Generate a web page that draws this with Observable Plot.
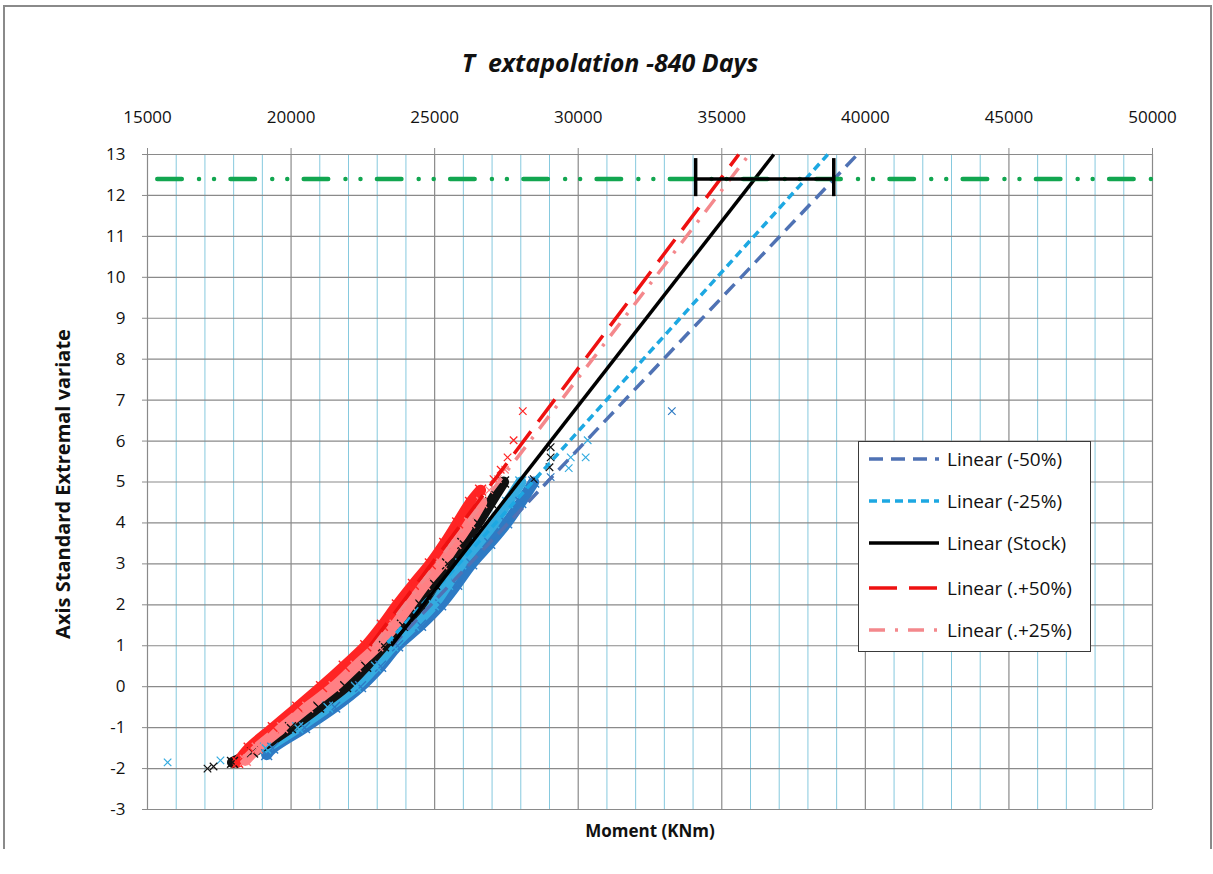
<!DOCTYPE html>
<html>
<head>
<meta charset="utf-8">
<script src="https://cdn.jsdelivr.net/npm/d3@7"></script>
<script src="https://cdn.jsdelivr.net/npm/@observablehq/plot@0.6"></script>
<style>
  html, body { margin: 0; padding: 0; background: #fff; }
  #wrap { position: relative; width: 1213px; height: 874px; overflow: hidden; font-family: "Open Sans", Lato, sans-serif; color: #111; }
  #frame { position: absolute; left: 3px; top: 5px; width: 1205px; height: 842px; border-top: 2px solid #8a8a8a; border-left: 2px solid #8a8a8a; border-right: 2px solid #8a8a8a; }
  #chart { position: absolute; left: 0; top: 0; }
  #title { position: absolute; left: 310px; width: 600px; top: 45px; line-height: 34px; text-align: center; font: italic bold 25px "Open Sans", sans-serif; white-space: pre; }
  #xlabel { position: absolute; left: 450px; width: 400px; top: 819px; line-height: 28px; text-align: center; font: bold 17px "Open Sans", sans-serif; }
  #ylabel { position: absolute; left: 62px; top: 484px; transform: translate(-50%, -50%) rotate(-90deg); white-space: nowrap; font: bold 20px "Open Sans", sans-serif; }
  #legend { position: absolute; left: 858px; top: 441px; width: 231px; height: 209px; border: 1px solid #3a3a3a; background: #fff; }
  .item { position: absolute; left: 0; height: 30px; width: 231px; }
  .item svg { position: absolute; left: 9px; top: 10px; }
  .item span { position: absolute; left: 88px; top: 0; line-height: 30px; font-size: 19px; white-space: pre; }
</style>
</head>
<body>
<div id="wrap">
  <div id="frame"></div>
  <div id="chart"></div>
  <div id="title">T  extapolation -840 Days</div>
  <div id="xlabel">Moment (KNm)</div>
  <div id="ylabel">Axis Standard Extremal variate</div>
  <div id="legend"></div>
</div>
<script>
// ---- tick / grid values ----
const xTickValues = [15000, 20000, 25000, 30000, 35000, 40000, 45000, 50000];
const xMinorGrid = [16000, 17000, 18000, 19000, 21000, 22000, 23000, 24000, 26000, 27000, 28000, 29000,
  31000, 32000, 33000, 34000, 36000, 37000, 38000, 39000, 41000, 42000, 43000, 44000, 46000, 47000, 48000, 49000];
const yTickValues = [-3, -2, -1, 0, 1, 2, 3, 4, 5, 6, 7, 8, 9, 10, 11, 12, 13];

// ---- series names (legend order) ----
const seriesNames = ["Linear (-50%)", "Linear (-25%)", "Linear (Stock)", "Linear (.+50%)", "Linear (.+25%)"];

// ---- scatter: dense band ----
const minus50X = [19150, 19360, 20470, 21520, 22420, 23120, 23710, 24510, 25210, 25770, 26290, 26920, 27510, 28000, 28450];
const minus50Y = [-1.66, -1.5, -1, -0.5, 0, 0.5, 1, 1.5, 2, 2.5, 3, 3.5, 4, 4.5, 5];
const minus25X = [19110, 20230, 21270, 22250, 22940, 23540, 24270, 24960, 25450, 25910, 26500, 27060, 27540, 28000];
const minus25Y = [-1.5, -1, -0.5, 0, 0.5, 1, 1.5, 2, 2.5, 3, 3.5, 4, 4.5, 5];
const stockX = [17960, 18660, 19980, 20960, 21900, 22600, 23220, 23880, 24510, 25000, 25450, 25980, 26500, 26950, 27400];
const stockY = [-1.85, -1.6, -1, -0.5, 0, 0.5, 1, 1.5, 2, 2.5, 3, 3.5, 4, 4.5, 5];
const plus50X = [18140, 18540, 19380, 20230, 21060, 21850, 22600, 23180, 23700, 24260, 24850, 25350, 25800, 26250, 26600];
const plus50Y = [-1.85, -1.5, -1, -0.5, 0, 0.5, 1, 1.5, 2, 2.5, 3, 3.5, 4, 4.5, 4.8];
const plus25X = [18410, 18820, 19700, 20580, 21500, 22260, 23020, 23620, 24140, 24660, 25250, 25740, 26220, 26640];
const plus25Y = [-1.8, -1.5, -1, -0.5, 0, 0.5, 1, 1.5, 2, 2.5, 3, 3.5, 4, 4.5];

// ---- scatter: sparse tail points ----
const minus50TailX = [29040, 33260];
const minus50TailY = [5.12, 6.73];
const minus25TailX = [15700, 17540, 29670, 29740, 30260, 30330];
const minus25TailY = [-1.85, -1.8, 5.34, 5.6, 5.6, 6.02];
const stockTailX = [17090, 17300, 28450, 29000, 29040, 29040];
const stockTailY = [-2.0, -1.95, 5.07, 5.36, 5.6, 5.85];
const plus50TailX = [27050, 27300, 27540, 27750, 28070];
const plus50TailY = [5.07, 5.3, 5.6, 6.02, 6.73];
const plus25TailX = [26900, 27200, 27450];
const plus25TailY = [4.8, 5.07, 5.3];

// ---- linear trendlines (start / end points) ----
const trendStartX = [23520, 23360, 23490, 22750, 22870];
const trendStartY = [1.0, 1.07, 1.0, 1.0, 1.0];
const trendEndX = [39720, 38690, 36810, 35590, 35950];
const trendEndY = [13, 13, 13, 13, 13];

// ---- reference level and error bar ----
const referenceLevel = [12.4];
const errorBarX = [34090, 38900];
const errorBarY = [12.4];
const errorCapY = [11.97, 12.9];

// ---- styles ----
const markerColors = ["#2E7BC4", "#35ACE0", "#111111", "#FF2424", "#FF8084"];
const trendColors = ["#4F72B4", "#1DA8E2", "#000000", "#EE1111", "#F4888C"];
const trendDash = ["14,8", "8,5", null, "28,12", "16,10,3,10"];

const bands = [
  [minus50X, minus50Y, minus50TailX, minus50TailY],
  [minus25X, minus25Y, minus25TailX, minus25TailY],
  [stockX, stockY, stockTailX, stockTailY],
  [plus50X, plus50Y, plus50TailX, plus50TailY],
  [plus25X, plus25Y, plus25TailX, plus25TailY]
];

const marks = [
  Plot.ruleX(xMinorGrid, {stroke: "#86C9DE", strokeWidth: 1}),
  Plot.ruleX(xTickValues, {stroke: "#8a8a8a", strokeWidth: 1.2}),
  Plot.ruleY(yTickValues, {stroke: "#8a8a8a", strokeWidth: 1.2}),
  Plot.axisX({anchor: "top", ticks: xTickValues, tickSize: 7, tickPadding: 25, stroke: "#8a8a8a",
    tickFormat: d => String(d), label: null, fontSize: 17}),
  Plot.axisY({anchor: "left", ticks: yTickValues, tickSize: 5, tickPadding: 17, stroke: "#8a8a8a",
    tickFormat: d => String(d), label: null, fontSize: 17})
];

bands.forEach(([bx, by], i) => {
  marks.push(Plot.line(bx, {x: bx, y: by, stroke: markerColors[i], strokeWidth: 11,
    curve: "catmull-rom", strokeLinecap: "round", strokeLinejoin: "round"}));
});
bands.forEach(([bx, by, tx, ty], i) => {
  marks.push(Plot.dot(bx, {x: bx, y: by, symbol: "times", r: 5, stroke: markerColors[i], strokeWidth: 1.4}));
  marks.push(Plot.dot(tx, {x: tx, y: ty, symbol: "times", r: 3.5, stroke: markerColors[i], strokeWidth: 1.2}));
});

seriesNames.forEach((name, i) => {
  marks.push(Plot.link([name], {
    x1: [trendStartX[i]], y1: [trendStartY[i]], x2: [trendEndX[i]], y2: [trendEndY[i]],
    stroke: trendColors[i], strokeWidth: 3.5, strokeDasharray: trendDash[i]
  }));
});

marks.push(Plot.ruleY(referenceLevel, {x1: 15000, x2: 50000, stroke: "#12A650", strokeWidth: 4.5,
  strokeLinecap: "round", strokeDasharray: "24.5,17.25,0.01,15,0.01,16.45", strokeDashoffset: 62.95}));
marks.push(Plot.ruleY(errorBarY, {x1: errorBarX[0], x2: errorBarX[1], stroke: "#000", strokeWidth: 3.5}));
marks.push(Plot.ruleX(errorBarX, {y1: errorCapY[0], y2: errorCapY[1], stroke: "#000", strokeWidth: 3.5}));

const chart = Plot.plot({
  width: 1213,
  height: 874,
  marginLeft: 147,
  marginRight: 61,
  marginTop: 154,
  marginBottom: 65,
  x: {domain: [15000, 50000]},
  y: {domain: [-3, 13]},
  style: {fontFamily: "'Open Sans', Lato, sans-serif", fontSize: "17px", color: "#111", background: "transparent", overflow: "visible"},
  marks
});
document.getElementById("chart").appendChild(chart);

// ---- legend ----
const legend = document.getElementById("legend");
const legendTops = [2, 44, 86, 131, 173];
seriesNames.forEach((name, i) => {
  const item = document.createElement("div");
  item.className = "item";
  item.style.top = legendTops[i] + "px";
  const dash = trendDash[i] ? `stroke-dasharray="${trendDash[i]}"` : "";
  item.innerHTML = `<svg width="72" height="10"><line x1="1" y1="5" x2="71" y2="5" stroke="${trendColors[i]}" stroke-width="3.5" ${dash}/></svg><span>${name}</span>`;
  legend.appendChild(item);
});
</script>
</body>
</html>
